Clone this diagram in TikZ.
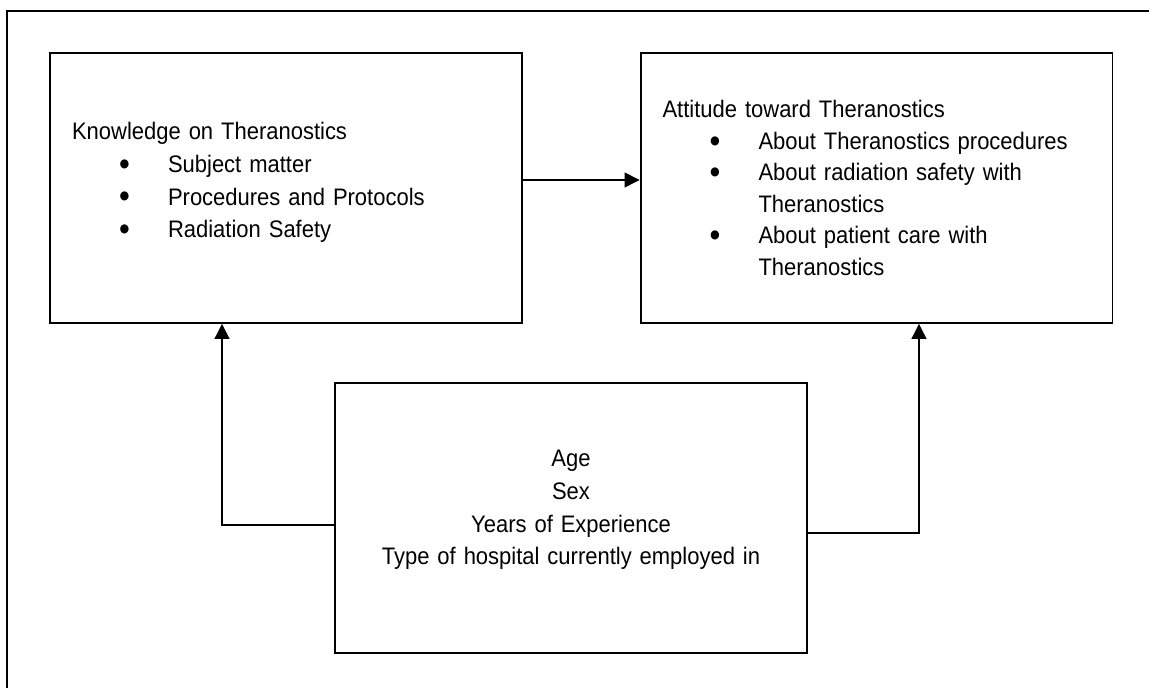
\documentclass[tikz,border=0pt]{standalone}
\usepackage{fontspec}
\setmainfont[FakeStretch=0.92]{Liberation Sans}
\usepackage{tikz}
\usetikzlibrary{arrows.meta}
\tikzset{
  every picture/.style={line join=miter, >={Triangle[length=0.3cm,width=0.3cm]}},
  varbox/.style={draw, line width=1.1pt, minimum width=9.44cm, minimum height=5.4cm,
    inner xsep=0.44cm, inner ysep=0pt, text width=8.56cm, align=left,
    font=\fontsize{13.6pt}{18.6pt}\selectfont},
  link/.style={line width=0.6pt},
}
\newcommand{\itm}[1]{\makebox[1.92cm][l]{\hspace{0.94cm}\raisebox{-0.12em}{\scalebox{1.4}{\textbullet}}}#1}
\newcommand{\cont}[1]{\makebox[1.92cm]{}#1}

\begin{document}
\begin{tikzpicture}[x=0.02cm,y=-0.02cm]
\useasboundingbox (0,0) rectangle (1149,688);
\clip (0,0) rectangle (1149,688);
% frame
\draw[line width=1.1pt] (7,11) rectangle (1165,705);
% the three blocks
\node[varbox, text depth=2.28cm] (know) at (286,188) {Knowledge on Theranostics\\
\itm{Subject matter}\\
\itm{Procedures and Protocols}\\
\itm{Radiation Safety}};
\node[varbox, font=\fontsize{13.6pt}{17.9pt}\selectfont] (att) at (876.5,188) {Attitude toward Theranostics\\
\itm{About Theranostics procedures}\\
\itm{About radiation safety with}\\
\cont{Theranostics}\\
\itm{About patient care with}\\
\cont{Theranostics}};
\node[varbox, align=center, text depth=2.38cm] (demo) at (571,518) {Age\\
Sex\\
Years of Experience\\
Type of hospital currently employed in};
% links
\draw[->,link] ([yshift=0.16cm]know.east) -- ([yshift=0.16cm]att.west);
\draw[->,link] ([yshift=-0.14cm]demo.west) -| ([xshift=-1.28cm]know.south);
\draw[->,link] ([yshift=-0.3cm]demo.east) -| ([xshift=0.85cm]att.south);
\end{tikzpicture}
\end{document}
